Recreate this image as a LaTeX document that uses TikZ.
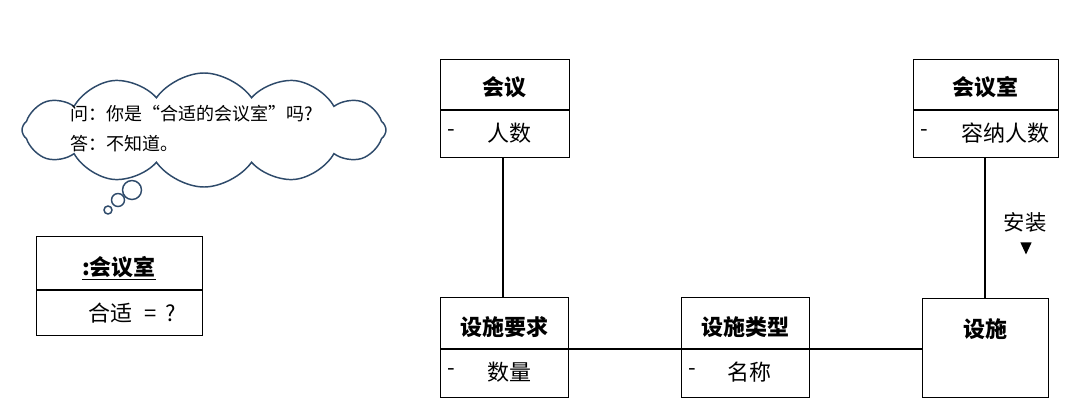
\documentclass[tikz,border=0pt]{standalone}
\usepackage{fontspec}
\setmainfont{Noto Sans CJK SC}
\usetikzlibrary{shapes.symbols,shapes.geometric}
\definecolor{cloudline}{RGB}{46,74,106}
\tikzset{
  classbox/.style={draw, line width=0.9pt, inner sep=0pt, anchor=north west},
  conn/.style={line width=0.8pt},
  ttl/.style={font=\fontsize{16.5}{18}\selectfont\bfseries, inner sep=0pt},
  attr/.style={font=\fontsize{16.5}{18}\selectfont, inner sep=0pt, anchor=west},
  lbltxt/.style={font=\fontsize{16}{18}\selectfont, inner sep=0pt},
  cloudtxt/.style={font=\fontsize{13.5}{16}\selectfont, inner sep=0pt, anchor=west},
  bubble/.style={draw=cloudline, line width=1.1pt, fill=white, circle, inner sep=0pt}
}
\begin{document}
\begin{tikzpicture}[x=0.75pt,y=-0.75pt]
\useasboundingbox (0,0) rectangle (1080,418);
% cloud
\node[cloud, cloud puffs=12, cloud puff arc=110, aspect=3.0, draw=cloudline, line width=1.1pt, fill=white,
      minimum width={364*0.75pt}, minimum height={114*0.75pt}, inner sep=0pt] (cloud) at (204,130) {};
\node[bubble, minimum size={19*0.75pt}] (b1) at (132,190) {};
\node[bubble, minimum size={13*0.75pt}] (b2) at (118,200) {};
\node[bubble, minimum size={8*0.75pt}] (b3) at (108,210) {};
\node[cloudtxt] (q) at (70,114) {问：你是“合适的会议室”吗?};
\node[cloudtxt] (a) at (70,144) {答：不知道。};
% object box
\node[classbox, minimum width={166*0.75pt}, minimum height={99*0.75pt}] (obj) at (36,236) {};
\draw[conn] (36,290) -- (202,290);
\node[ttl] (objt) at (119,268) {\underline{:会议室}};
\node[attr] (obja) at (88,313) {合适\hspace{0.55em}=\hspace{0.4em}?};
% 会议
\node[classbox, minimum width={129*0.75pt}, minimum height={98*0.75pt}] (mtg) at (440,59) {};
\draw[conn] (440,110) -- (569,110);
\node[ttl] (mtgt) at (504,87) {会议};
\node[attr] (mtgd) at (447,133) {-};
\node[attr] (mtga) at (487,133) {人数};
% 会议室
\node[classbox, minimum width={145*0.75pt}, minimum height={98*0.75pt}] (room) at (913,59) {};
\draw[conn] (913,110) -- (1058,110);
\node[ttl] (roomt) at (985,87) {会议室};
\node[attr] (roomd) at (920,133) {-};
\node[attr] (rooma) at (961,133) {容纳人数};
% 设施要求
\node[classbox, minimum width={128*0.75pt}, minimum height={100*0.75pt}] (req) at (440,297) {};
\draw[conn] (440,349) -- (568,349);
\node[ttl] (reqt) at (504,327) {设施要求};
\node[attr] (reqd) at (447,372) {-};
\node[attr] (reqa) at (487,372) {数量};
% 设施类型
\node[classbox, minimum width={128*0.75pt}, minimum height={100*0.75pt}] (typ) at (681,297) {};
\draw[conn] (681,349) -- (809,349);
\node[ttl] (typt) at (745,327) {设施类型};
\node[attr] (typd) at (688,372) {-};
\node[attr] (typa) at (727,372) {名称};
% 设施
\node[classbox, minimum width={126*0.75pt}, minimum height={99*0.75pt}] (fac) at (922,298) {};
\node[ttl] (fact) at (985,329) {设施};
% connectors
\draw[conn] (mtg.south -| 503,0) -- (req.north -| 503,0);
\draw[conn] (req.east |- 0,349) -- (typ.west |- 0,349);
\draw[conn] (typ.east |- 0,349) -- (fac.west |- 0,349);
\draw[conn] (room.south -| 985,0) -- (fac.north -| 985,0);
\node[lbltxt] (lbl) at (1025,222) {安装};
\node[isosceles triangle, isosceles triangle apex angle=50, shape border rotate=-90, fill=black, inner sep=0pt,
      minimum height={12*0.75pt}] (arr) at (1026,246) {};
\end{tikzpicture}
\end{document}
